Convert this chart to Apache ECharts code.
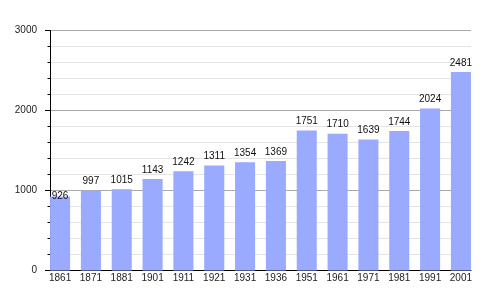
<!DOCTYPE html>
<html><head><meta charset="utf-8">
<script src="https://cdn.jsdelivr.net/npm/echarts@6/dist/echarts.min.js"></script>
<style>html,body{margin:0;padding:0;background:#fff}#c{width:500px;height:300px}</style>
</head><body><div id="c"></div>
<script>
var years = ['1861','1871','1881','1901','1911','1921','1931','1936','1951','1961','1971','1981','1991','2001'];
var population = [926,997,1015,1143,1242,1311,1354,1369,1751,1710,1639,1744,2024,2481];
var yTicks = [0,1000,2000,3000];

var chart = echarts.init(document.getElementById('c'));
var font = 'Liberation Sans, Arial, sans-serif';
var gap = 5.35;
chart.setOption({
  animation:false,
  grid:[
    {left:50,right:29,top:30.5,bottom:29.5},
    {left:50-gap,right:29-gap,top:30.5,bottom:29.5}
  ],
  xAxis:[
    {gridIndex:0,type:'category',data:years,boundaryGap:false,
     axisLine:{lineStyle:{color:'#000',width:1}},axisTick:{show:false},axisLabel:{show:false},z:1},
    {gridIndex:1,type:'category',data:years,
     axisLine:{show:false},axisTick:{show:false},
     axisLabel:{color:'#222',fontSize:10,fontFamily:font,margin:3},z:1}
  ],
  yAxis:[
    {gridIndex:0,type:'value',min:yTicks[0],max:yTicks[yTicks.length-1],interval:1000,
     axisLine:{show:true,lineStyle:{color:'#000'}},
     axisTick:{show:true,length:5,lineStyle:{color:'#000'}},
     minorTick:{show:true,splitNumber:5,length:2.5,lineStyle:{color:'#000'}},
     splitLine:{show:true,lineStyle:{color:'#aaaaaa'}},
     minorSplitLine:{show:true,lineStyle:{color:'#e4e4e4'}},
     axisLabel:{color:'#222',fontSize:10,fontFamily:font,margin:13,formatter:function(v){return String(v);}},z:0},
    {gridIndex:1,type:'value',min:0,max:3000,show:false,splitLine:{show:false}}
  ],
  series:[{
    type:'bar',xAxisIndex:1,yAxisIndex:1,barCategoryGap:'35%',
    itemStyle:{color:'#99aaff'},
    data:population.map(function(v,i){
      var d={value:v};
      if(i===0) d.label={offset:[0,9]};
      return d;
    }),
    label:{show:true,position:'top',distance:4,color:'#111',fontSize:10,fontFamily:font},
    z:3
  }]
});
</script></body></html>
